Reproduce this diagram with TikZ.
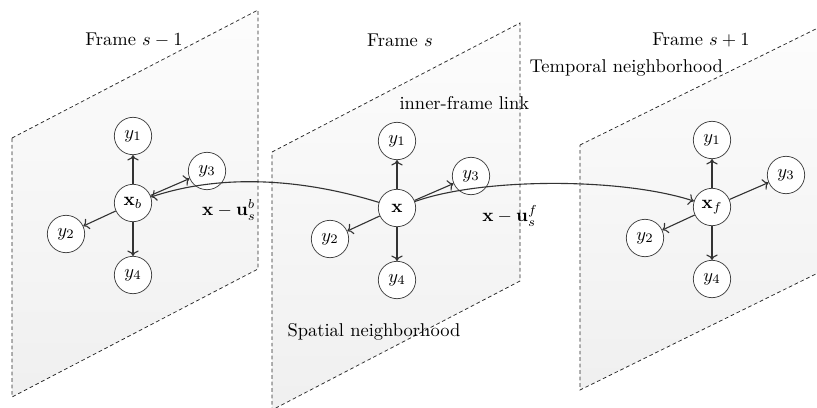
\documentclass[tikz,border=0pt]{standalone}
\usepackage{amsmath,amssymb}
\usepackage{tikz}
\usetikzlibrary{arrows.meta,positioning,calc}

\begin{document}
\begin{tikzpicture}[x=0.019cm, y=-0.019cm,
    frame/.style={draw=black!85, dash pattern=on 2pt off 1.5pt, thin, top color=black!1, bottom color=black!6},
    pix/.style={circle, draw=black!75, thin, fill=white, minimum size=0.71cm, inner sep=0pt},
    link/.style={->, black!80, semithick}]

    \useasboundingbox (0,0) rectangle (817,407);
    \clip (0,0) rectangle (817,407);

    % Frames s-1, s, s+1 (left x, top-left y, width, rise, height)
    \foreach \fx/\fy/\fw/\fr/\fh in {12/138/246/128/259, 272/152/248/129/258, 580/145/246/121/245}
        \draw[frame] (\fx,\fy) -- ++(\fw,-\fr) -- ++(0,\fh) -- ++(-\fw,\fr) -- cycle;

    % Pixel and its spatial neighbours in every frame
    \foreach \i/\cx/\cy/\lab in {1/133/203/\mathbf{x}_b, 2/397/208/\mathbf{x}, 3/712/207/\mathbf{x}_f} {
        \node[pix] (x\i) at (\cx,\cy) {$\lab$};
        \node[pix] (f\i-y1) at (\cx,\cy-67) {$y_1$};
        \node[pix] (f\i-y2) at (\cx-67,\cy+31) {$y_2$};
        \node[pix] (f\i-y3) at (\cx+74,\cy-32) {$y_3$};
        \node[pix] (f\i-y4) at (\cx,\cy+72) {$y_4$};
        \foreach \k in {1,...,4}
            \draw[link] (x\i) -- (f\i-y\k);
    }

    % Temporal links
    \draw[link] (x2) .. controls (300,178) and (220,174) .. (x1);
    \draw[link] (x2) .. controls (480,178) and (620,177) .. (x3);

    % Labels
    \node (lbl-prev) at (134,40) {Frame $s-1$};
    \node (lbl-cur) at (400,40) {Frame $s$};
    \node (lbl-next) at (701,40) {Frame $s+1$};
    \node[anchor=west] (lbl-temp) at (523,68) {Temporal neighborhood};
    \node[anchor=west] (lbl-inner) at (393,103) {inner-frame link};
    \node (lbl-ub) at (229,210) {$\mathbf{x}-\mathbf{u}_s^b$};
    \node (lbl-uf) at (510,216) {$\mathbf{x}-\mathbf{u}_s^f$};
    \node[anchor=west] (lbl-spat) at (281,332) {Spatial neighborhood};
\end{tikzpicture}
\end{document}
